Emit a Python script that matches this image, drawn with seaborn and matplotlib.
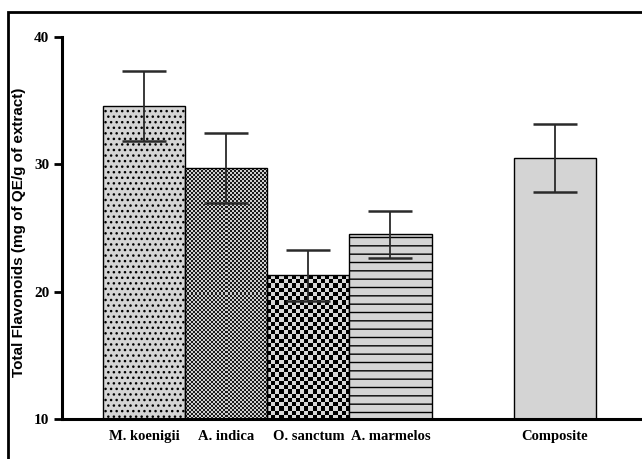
import numpy as np
import pandas as pd
import matplotlib
matplotlib.use("Agg")
import matplotlib.pyplot as plt
from matplotlib.colors import ListedColormap
from matplotlib.patches import Rectangle
import seaborn as sns

# ---- data ----
categories = ["M. koenigii", "A. indica", "O. sanctum", "A. marmelos", "Composite"]
means = [34.6, 29.7, 21.3, 24.5, 30.5]
sds = [2.75, 2.75, 2.0, 1.85, 2.65]
order = ["M. koenigii", "A. indica", "O. sanctum", "A. marmelos", " ", "Composite"]
y_ticks = [10, 20, 30, 40]

sns.set_theme(style="white")
plt.rcParams["hatch.linewidth"] = 1.0
plt.rcParams["hatch.color"] = "#3a3a3a"
plt.rcParams["text.color"] = "black"

fig = plt.figure(figsize=(6.42, 4.59), dpi=100)
ax = fig.add_axes([62 / 642, 40 / 459, 580 / 642, 382 / 459])

df = pd.DataFrame({"cat": categories, "val": means})
light = "#d4d4d4"
sns.barplot(data=df, x="cat", y="val", order=order, width=1.0,
            color=light, edgecolor="black", linewidth=1.0,
            errorbar=None, ax=ax, zorder=1)

ax.set_ylim(10, 40)
ax.set_xlim(-1.006, 6.067)

# find bar patches by center position
bars = {}
for p in ax.patches:
    cx = p.get_x() + p.get_width() / 2
    idx = int(round(cx))
    if 0 <= idx < len(order):
        bars[order[idx]] = p

fig.canvas.draw()

def checker(patch, sq, c0, c1):
    x0, y0 = patch.get_x(), patch.get_y()
    x1, y1 = x0 + patch.get_width(), y0 + patch.get_height()
    (px0, py0), (px1, py1) = ax.transData.transform([(x0, max(y0, 10)), (x1, y1)])
    nx = max(1, int(round(abs(px1 - px0) / sq)))
    ny = max(1, int(round(abs(py1 - py0) / sq)))
    img = np.indices((ny, nx)).sum(0) % 2
    im = ax.imshow(img, cmap=ListedColormap([c0, c1]), extent=(x0, x1, max(y0, 10), y1),
                   interpolation="nearest", aspect="auto", zorder=0.8, origin="lower")
    im.set_clip_path(patch)
    patch.set_facecolor("none")

hatches = {"M. koenigii": "...", "A. marmelos": "--"}
for cat, h in hatches.items():
    bars[cat].set_hatch(h)

checker(bars["A. indica"], 2.0, "#cfcfcf", "#1a1a1a")
checker(bars["O. sanctum"], 4.2, "#d8d8d8", "#000000")

ax.set_ylim(10, 40)
ax.set_xlim(-1.006, 6.067)

# error bars
xpos = [order.index(c) for c in categories]
ax.errorbar(xpos, means, yerr=sds, fmt="none", ecolor="#2a2a2a",
            elinewidth=1.3, capsize=15.5, capthick=1.8, zorder=3)

# axes styling
for s in ["top", "right"]:
    ax.spines[s].set_visible(False)
for s in ["left", "bottom"]:
    ax.spines[s].set_linewidth(2.2)
    ax.spines[s].set_color("black")
ax.set_yticks(y_ticks)
ax.set_yticklabels([str(t) for t in y_ticks], fontfamily="Liberation Serif",
                   fontweight="bold", fontsize=11)
ax.tick_params(axis="y", left=True, length=6, width=2, pad=3, colors="black")
ax.tick_params(axis="x", bottom=False, length=0, pad=8, colors="black")
ax.set_xticks(range(len(order)))
ax.set_xticklabels(order, fontfamily="Liberation Serif", fontweight="bold", fontsize=10.5)
ax.set_xlabel("")
ax.set_ylabel("Total Flavonoids (mg of QE/g of extract)", fontfamily="Liberation Sans",
              fontweight="bold", fontsize=11, labelpad=8, color="black")
ax.yaxis.set_label_coords(-36 / 580, 0.49)
ax.grid(False)
ax.set_facecolor("white")

# figure frame
frame = Rectangle((8 / 642, -0.1), 2.0, 1.0 - 12.5 / 459 + 0.1, transform=fig.transFigure,
                  fill=False, edgecolor="black", linewidth=2.0, clip_on=False)
fig.patches.append(frame)

fig.savefig("out.png", dpi=100, facecolor="white")
